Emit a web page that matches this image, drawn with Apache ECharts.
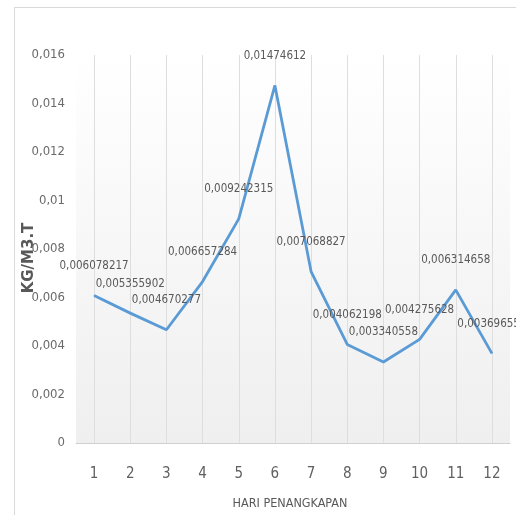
<!DOCTYPE html>
<html>
<head>
<meta charset="utf-8">
<script src="https://cdn.jsdelivr.net/npm/echarts@6/dist/echarts.min.js"></script>
<style>
html,body{margin:0;padding:0;background:#fff;}
#chart{width:516px;height:515px;}
</style>
</head>
<body>
<div id="chart"></div>
<script>
var categories = ['1','2','3','4','5','6','7','8','9','10','11','12'];
var values = [0.006078217, 0.005355902, 0.004670277, 0.006657284, 0.009242315, 0.01474612, 0.007068827, 0.004062198, 0.003340558, 0.004275628, 0.006314658, 0.003696551];
var xName = 'HARI PENANGKAPAN';
var yName = 'KG/M3.T';

var narrow = '"Liberation Sans Narrow", "DejaVu Sans Condensed", sans-serif';
var chart = echarts.init(document.getElementById('chart'));
chart.setOption({
  animation: false,
  backgroundColor: '#fff',
  graphic: [{
    type: 'rect', silent: true,
    shape: {x: 14.5, y: 7.5, width: 520, height: 530},
    style: {fill: 'none', stroke: '#d9d9d9', lineWidth: 1}
  }],
  grid: {
    left: 76, right: 6, top: 55, bottom: 72,
    outerBoundsMode: 'none',
    containLabel: false,
    show: true, borderWidth: 0,
    backgroundColor: new echarts.graphic.LinearGradient(0, 0, 0, 1, [
      {offset: 0, color: '#ffffff'},
      {offset: 1, color: '#efefef'}
    ])
  },
  xAxis: {
    type: 'category',
    data: categories,
    boundaryGap: true,
    name: xName,
    nameLocation: 'middle',
    nameGap: 54,
    nameMoveOverlap: false,
    nameTextStyle: {fontFamily: narrow, fontSize: 12.5, color: '#595959', padding: [0, 6, 0, 0]},
    axisLine: {lineStyle: {color: '#d0d0d0', width: 1}},
    axisTick: {show: false, alignWithLabel: true},
    axisLabel: {fontFamily: narrow, fontSize: 15, color: '#606060', margin: 24},
    splitLine: {show: true, alignWithLabel: true, lineStyle: {color: '#dedede', width: 1}}
  },
  yAxis: {
    type: 'value',
    min: 0, max: 0.016, interval: 0.002,
    name: yName,
    nameLocation: 'middle',
    nameGap: 39,
    nameMoveOverlap: false,
    nameTextStyle: {fontFamily: '"DejaVu Sans", sans-serif', fontWeight: 'bold', fontSize: 15, color: '#595959', padding: [0, 18, 0, 0]},
    axisLine: {show: false},
    axisTick: {show: false},
    splitLine: {show: false},
    axisLabel: {
      fontFamily: narrow, fontSize: 13, color: '#6a6a6a', margin: 11,
      formatter: function (v) { return String(parseFloat(v.toFixed(3))).replace('.', ','); }
    }
  },
  series: [{
    type: 'line',
    data: values,
    symbol: 'circle',
    symbolSize: 1,
    showSymbol: true,
    smooth: false,
    lineStyle: {color: '#5b9bd5', width: 2.8},
    itemStyle: {color: '#5b9bd5'},
    label: {
      show: true,
      position: 'top',
      distance: 23,
      fontFamily: narrow,
      fontSize: 11.5,
      color: '#595959',
      formatter: function (p) { return String(p.value).replace('.', ','); }
    },
    labelLayout: {hideOverlap: false}
  }]
});
</script>
</body>
</html>
